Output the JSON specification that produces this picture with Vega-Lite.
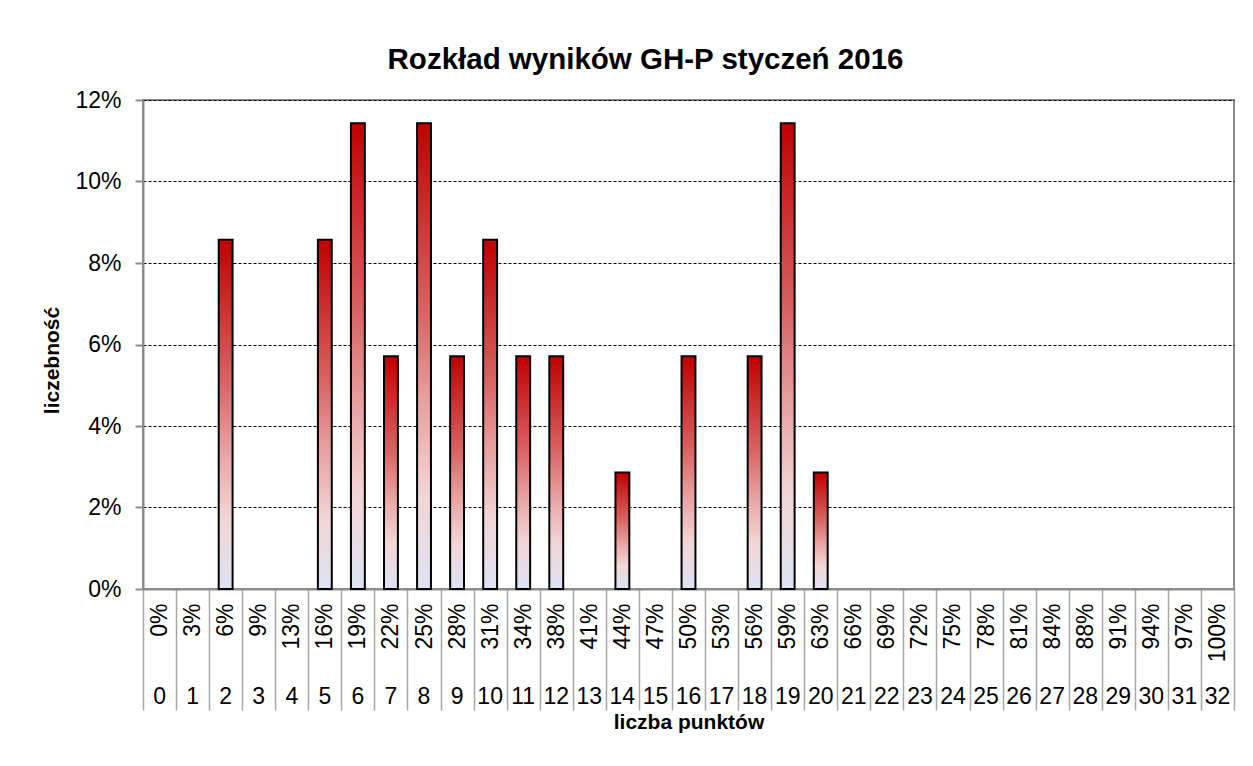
{
  "$schema": "https://vega.github.io/schema/vega-lite/v6.json",
  "autosize": {"type": "none"},
  "padding": {"left": 143, "top": 100, "right": 19, "bottom": 177},
  "width": 1091,
  "height": 489,
  "background": "white",
  "config": {
    "font": "Liberation Sans",
    "view": {"stroke": "#8c8c8c", "strokeWidth": 2},
    "axis": {"labelFont": "Liberation Sans", "titleFont": "Liberation Sans", "labelColor": "#000000", "titleColor": "#000000"}
  },
  "title": {
    "text": "Rozkład wyników GH-P styczeń 2016",
    "fontSize": 29.5,
    "fontWeight": "bold",
    "font": "Liberation Sans",
    "color": "#000000",
    "anchor": "middle",
    "frame": "group",
    "dx": -43,
    "offset": 14
  },
  "data": {
    "values": [
      {"pts": "0", "pct": "0%", "value": 0},
      {"pts": "1", "pct": "3%", "value": 0},
      {"pts": "2", "pct": "6%", "value": 0.0857},
      {"pts": "3", "pct": "9%", "value": 0},
      {"pts": "4", "pct": "13%", "value": 0},
      {"pts": "5", "pct": "16%", "value": 0.0857},
      {"pts": "6", "pct": "19%", "value": 0.1143},
      {"pts": "7", "pct": "22%", "value": 0.0571},
      {"pts": "8", "pct": "25%", "value": 0.1143},
      {"pts": "9", "pct": "28%", "value": 0.0571},
      {"pts": "10", "pct": "31%", "value": 0.0857},
      {"pts": "11", "pct": "34%", "value": 0.0571},
      {"pts": "12", "pct": "38%", "value": 0.0571},
      {"pts": "13", "pct": "41%", "value": 0},
      {"pts": "14", "pct": "44%", "value": 0.0286},
      {"pts": "15", "pct": "47%", "value": 0},
      {"pts": "16", "pct": "50%", "value": 0.0571},
      {"pts": "17", "pct": "53%", "value": 0},
      {"pts": "18", "pct": "56%", "value": 0.0571},
      {"pts": "19", "pct": "59%", "value": 0.1143},
      {"pts": "20", "pct": "63%", "value": 0.0286},
      {"pts": "21", "pct": "66%", "value": 0},
      {"pts": "22", "pct": "69%", "value": 0},
      {"pts": "23", "pct": "72%", "value": 0},
      {"pts": "24", "pct": "75%", "value": 0},
      {"pts": "25", "pct": "78%", "value": 0},
      {"pts": "26", "pct": "81%", "value": 0},
      {"pts": "27", "pct": "84%", "value": 0},
      {"pts": "28", "pct": "88%", "value": 0},
      {"pts": "29", "pct": "91%", "value": 0},
      {"pts": "30", "pct": "94%", "value": 0},
      {"pts": "31", "pct": "97%", "value": 0},
      {"pts": "32", "pct": "100%", "value": 0}
    ]
  },
  "layer": [
    {
      "mark": {"type": "point", "opacity": 0},
      "encoding": {
        "x": {
          "field": "pct", "type": "ordinal", "sort": null,
          "scale": {"paddingInner": 0, "paddingOuter": 0},
          "axis": {
            "orient": "bottom",
            "title": null,
            "labelAngle": -90,
            "labelFontSize": 23,
            "labelPadding": -107,
            "ticks": true,
            "tickBand": "extent",
            "tickSize": 121,
            "tickColor": "#a6a6a6",
            "tickWidth": 1.5,
            "domain": true,
            "domainColor": "#8c8c8c",
            "domainWidth": 2
          }
        },
        "y": {"field": "value", "type": "quantitative"}
      }
    },
    {
      "mark": {
        "type": "bar",
        "width": {"band": 0.42},
        "stroke": "#000000",
        "strokeWidth": 2,
        "fill": {
          "gradient": "linear",
          "x1": 0, "y1": 0, "x2": 0, "y2": 1,
          "stops": [
            {"offset": 0, "color": "#c00000"},
            {"offset": 0.4, "color": "#d86262"},
            {"offset": 0.6, "color": "#e8a0a0"},
            {"offset": 0.8, "color": "#f2d6d6"},
            {"offset": 1, "color": "#dde3f3"}
          ]
        }
      },
      "encoding": {
        "x": {
          "field": "pts", "type": "ordinal", "sort": null,
          "scale": {"paddingInner": 0, "paddingOuter": 0},
          "axis": {
            "orient": "bottom",
            "offset": 95,
            "title": "liczba punktów",
            "titleFontSize": 21,
            "titleFontWeight": "bold",
            "titlePadding": 3,
            "labelAngle": 0,
            "labelFontSize": 23,
            "labelPadding": 1,
            "ticks": false,
            "domain": false
          }
        },
        "y": {
          "field": "value", "type": "quantitative",
          "scale": {"domain": [0, 0.12], "nice": false},
          "axis": {
            "title": "liczebność",
            "titleFontSize": 21,
            "titleFontWeight": "bold",
            "titlePadding": 12,
            "titleY": 260,
            "format": ".0%",
            "values": [0, 0.02, 0.04, 0.06, 0.08, 0.1, 0.12],
            "labelFontSize": 23,
            "labelPadding": 14,
            "tickSize": 8,
            "tickColor": "#8c8c8c",
            "tickWidth": 2,
            "domainColor": "#8c8c8c",
            "domainWidth": 2,
            "grid": true,
            "gridColor": "#000000",
            "gridDash": [3, 2],
            "gridWidth": 1
          }
        },
        "strokeOpacity": {"condition": {"test": "datum.value > 0", "value": 1}, "value": 0}
      }
    }
  ],
  "resolve": {"scale": {"x": "independent"}, "axis": {"x": "independent"}}
}
